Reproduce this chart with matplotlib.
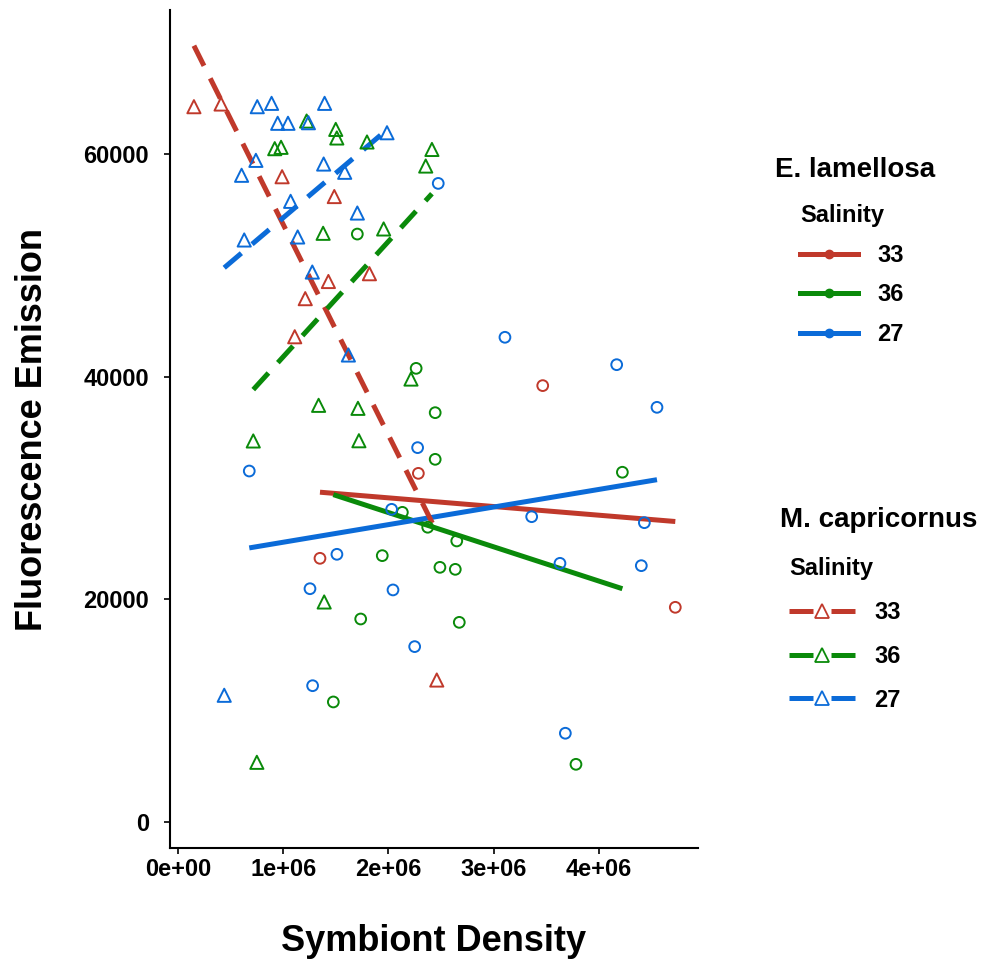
import numpy as np
import matplotlib
matplotlib.use("Agg")
import matplotlib.pyplot as plt
from matplotlib.lines import Line2D

plt.rcParams["font.family"] = ["Liberation Sans", "DejaVu Sans"]
plt.rcParams["font.weight"] = "bold"

# Salinity groups and colours
salinity = ["33", "36", "27"]
colors = {"33": "#C0392B", "36": "#0A8A0A", "27": "#0B6BD8"}

# E. lamellosa (circles, solid fits)
lam_x = {
    "33": [2.285e6, 1.35e6, 3.467e6, 4.727e6],
    "36": [1.705e6, 2.264e6, 2.445e6, 2.445e6, 2.133e6, 2.374e6, 2.65e6, 1.942e6,
           2.49e6, 2.636e6, 1.737e6, 2.674e6, 1.477e6, 4.224e6, 3.783e6],
    "27": [2.474e6, 0.678e6, 2.278e6, 2.031e6, 1.511e6, 1.255e6, 2.044e6, 2.25e6,
           1.28e6, 3.108e6, 4.17e6, 4.553e6, 3.362e6, 4.433e6, 3.631e6, 4.404e6, 3.682e6],
}
lam_y = {
    "33": [31310, 23680, 39190, 19280],
    "36": [52800, 40740, 36760, 32570, 27810, 26470, 25240, 23920,
           22870, 22690, 18230, 17930, 10780, 31410, 5180],
    "27": [57350, 31520, 33620, 28080, 24040, 20950, 20840, 15750,
           12240, 43530, 41070, 37240, 27420, 26880, 23230, 23020, 7970],
}

# M. capricornus (triangles, dashed fits)
cap_x = {
    "33": [0.152e6, 0.41e6, 0.99e6, 1.486e6, 1.82e6, 1.43e6, 1.21e6, 1.11e6, 2.46e6],
    "36": [1.223e6, 1.5e6, 1.51e6, 0.92e6, 0.98e6, 1.797e6, 2.414e6, 2.355e6, 1.38e6,
           1.955e6, 2.215e6, 1.337e6, 1.711e6, 0.716e6, 1.72e6, 1.39e6, 0.75e6],
    "27": [0.754e6, 0.89e6, 1.394e6, 0.948e6, 1.046e6, 1.24e6, 1.987e6, 0.741e6, 1.385e6,
           1.585e6, 0.605e6, 1.071e6, 1.705e6, 1.138e6, 0.63e6, 1.277e6, 1.62e6, 0.44e6],
}
cap_y = {
    "33": [64240, 64480, 57950, 56170, 49240, 48540, 47000, 43580, 12750],
    "36": [62950, 62200, 61430, 60470, 60590, 61070, 60400, 58910, 52870,
           53260, 39780, 37420, 37150, 34220, 34240, 19760, 5360],
    "27": [64240, 64540, 64540, 62750, 62750, 62800, 61900, 59420, 59090,
           58350, 58080, 55740, 54690, 52540, 52270, 49390, 41940, 11380],
}

x_ticks = [0, 1e6, 2e6, 3e6, 4e6]
x_tick_labels = ["0e+00", "1e+06", "2e+06", "3e+06", "4e+06"]
y_ticks = [0, 20000, 40000, 60000]

fig = plt.figure(figsize=(9.88, 9.65), dpi=100)
ax = fig.add_axes([0.172, 0.1212, 0.5345, 0.8684])

for s in salinity:
    c = colors[s]
    x = np.array(lam_x[s]); y = np.array(lam_y[s])
    ax.scatter(x, y, s=60, marker="o", facecolors="none", edgecolors=c, linewidths=1.4, zorder=3)
    k, b = np.polyfit(x, y, 1)
    xs = np.array([x.min(), x.max()])
    ax.plot(xs, k * xs + b, color=c, lw=3.6, solid_capstyle="butt", zorder=2)

for s in salinity:
    c = colors[s]
    x = np.array(cap_x[s]); y = np.array(cap_y[s])
    ax.scatter(x, y, s=90, marker="^", facecolors="none", edgecolors=c, linewidths=1.4, zorder=3)
    k, b = np.polyfit(x, y, 1)
    xs = np.array([x.min(), x.max()])
    ax.plot(xs, k * xs + b, color=c, lw=3.6, dashes=(4.5, 2.8), zorder=2)

ax.set_xlim(-0.076e6, 4.943e6)
ax.set_ylim(-2340, 72920)
ax.set_xticks(x_ticks)
ax.set_xticklabels(x_tick_labels)
ax.set_yticks(y_ticks)
ax.tick_params(labelsize=17, length=4, width=1.2, colors="black")
ax.tick_params(axis="y", pad=11)
ax.tick_params(axis="x", pad=3)
for lbl in ax.get_xticklabels() + ax.get_yticklabels():
    lbl.set_fontweight("bold")
for side in ["top", "right"]:
    ax.spines[side].set_visible(False)
for side in ["left", "bottom"]:
    ax.spines[side].set_linewidth(1.5)

ax.set_xlabel("Symbiont Density", fontsize=26, fontweight="bold", labelpad=31)
ax.set_ylabel("Fluorescence Emission", fontsize=26, fontweight="bold", labelpad=24)

# legends
lam_handles = [Line2D([0], [0], color=colors[s], lw=3.6, marker="o", markersize=6,
                      markerfacecolor=colors[s], markeredgecolor=colors[s]) for s in salinity]
cap_handles = [Line2D([0], [0], color=colors[s], lw=3.6, dashes=(4.8, 3.6), marker="^", markersize=10,
                      markerfacecolor="white", markeredgecolor=colors[s], markeredgewidth=1.3)
               for s in salinity]

fig.text(775 / 988, 1 - 170 / 965, "E. lamellosa", fontsize=20, fontweight="bold", va="center")
leg1 = fig.legend(lam_handles, salinity, title="Salinity", loc="upper left",
                  bbox_to_anchor=(779 / 988, 1 - 183 / 965), frameon=False, fontsize=17,
                  title_fontproperties={"size": 17, "weight": "bold"}, handlelength=2.46,
                  labelspacing=0.7, handletextpad=0.8)
leg1._legend_box.align = "left"

fig.text(780 / 988, 1 - 520 / 965, "M. capricornus", fontsize=20, fontweight="bold", va="center")
leg2 = fig.legend(cap_handles, salinity, title="Salinity", loc="upper left",
                  bbox_to_anchor=(768 / 988, 1 - 536 / 965), frameon=False, fontsize=17,
                  title_fontproperties={"size": 17, "weight": "bold"}, handlelength=2.8,
                  labelspacing=0.88, handletextpad=0.8)
leg2._legend_box.align = "left"

fig.savefig("out.png", dpi=100)
